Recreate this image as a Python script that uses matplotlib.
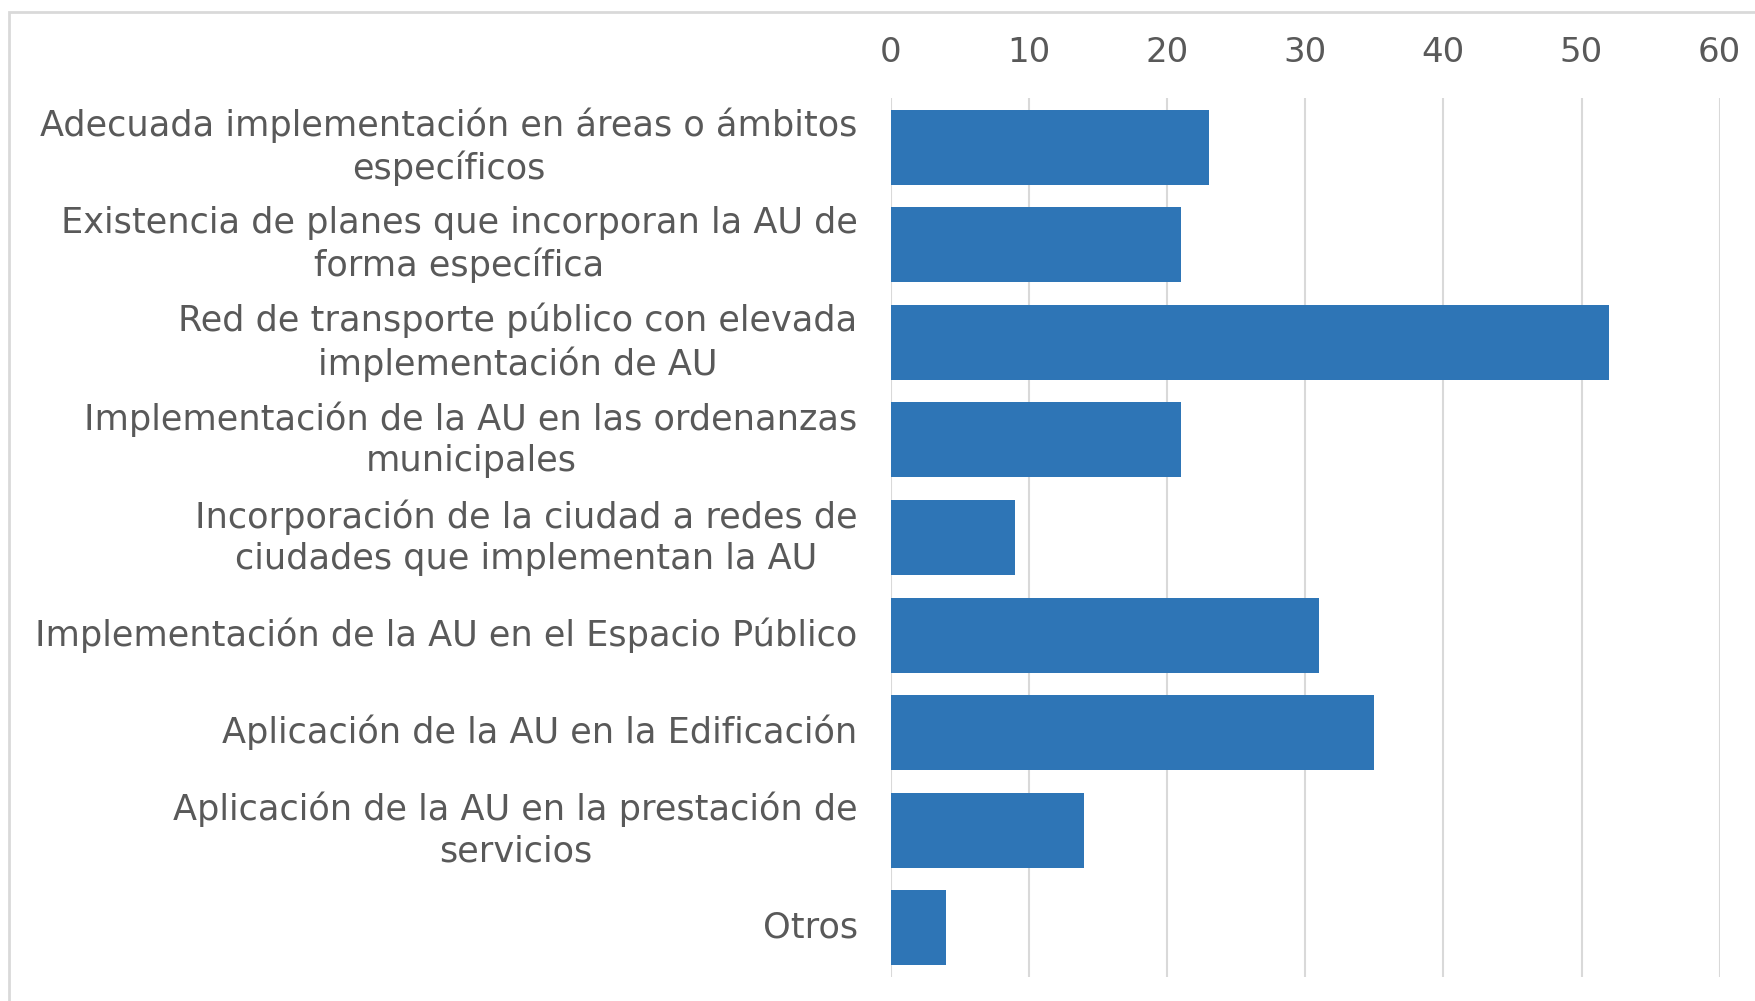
import matplotlib
matplotlib.use("Agg")
import matplotlib.pyplot as plt
from matplotlib.patches import Rectangle

categories = [
    "Adecuada implementación en áreas o ámbitos\nespecíficos",
    "Existencia de planes que incorporan la AU de\nforma específica",
    "Red de transporte público con elevada\nimplementación de AU",
    "Implementación de la AU en las ordenanzas\nmunicipales",
    "Incorporación de la ciudad a redes de\nciudades que implementan la AU",
    "Implementación de la AU en el Espacio Público",
    "Aplicación de la AU en la Edificación",
    "Aplicación de la AU en la prestación de\nservicios",
    "Otros",
]
values = [23, 21, 52, 21, 9, 31, 35, 14, 4]
xticks = [0, 10, 20, 30, 40, 50, 60]

text_color = "#595959"
grid_color = "#d9d9d9"
bar_color = "#2E75B6"

fig = plt.figure(figsize=(17.56, 10.01), dpi=100)
ax = fig.add_axes([0.5074, 0.0243, 0.9793 - 0.5074, 0.9018 - 0.0243])

ypos = list(range(len(categories)))
ax.barh(ypos, values, height=0.77, color=bar_color, zorder=3)
ax.set_ylim(len(categories) - 0.5, -0.5)
ax.set_xlim(0, 60)
ax.set_xticks(xticks)
ax.set_xticklabels([str(t) for t in xticks])
ax.xaxis.tick_top()
ax.set_yticks(ypos)
ax.set_yticklabels(categories, multialignment="center")

ax.tick_params(axis="x", length=0, pad=21, labelsize=24.5, colors=text_color)
ax.tick_params(axis="y", length=0, pad=24, labelsize=25.3, colors=text_color)
for lbl in ax.get_yticklabels():
    lbl.set_multialignment("center")
    lbl.set_linespacing(1.27)
    lbl.set_verticalalignment("center")

ax.grid(axis="x", color=grid_color, linewidth=1.5, zorder=0)
for s in ax.spines.values():
    s.set_visible(False)

fig.patches.append(Rectangle((9 / 1756, -0.02), 1.1, 0.988 + 0.02,
                             transform=fig.transFigure, fill=False,
                             edgecolor=grid_color, linewidth=2))

fig.savefig("out.png", dpi=100)
